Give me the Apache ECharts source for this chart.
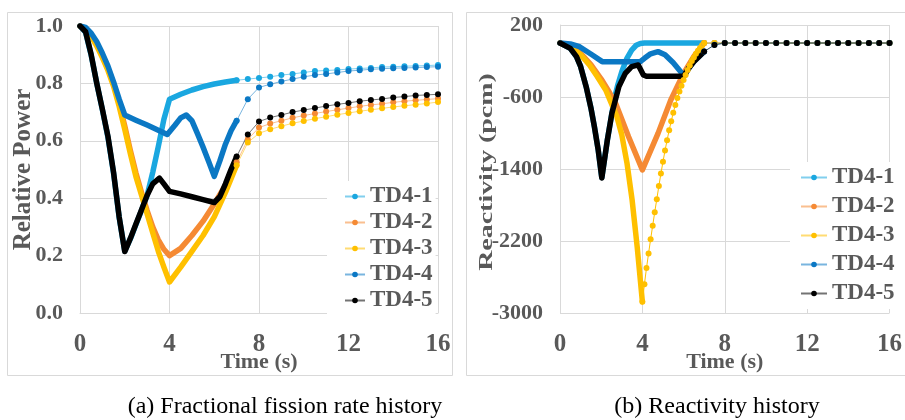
<!DOCTYPE html>
<html>
<head>
<meta charset="utf-8">
<script src="https://cdn.jsdelivr.net/npm/echarts@6/dist/echarts.min.js"></script>
<style>
html,body{margin:0;padding:0;background:#fff;}
#c{width:905px;height:420px;}
</style>
</head>
<body>
<div id="c"></div>
<script>
// ---------- data ----------
const seriesNames = ['TD4-1', 'TD4-2', 'TD4-3', 'TD4-4', 'TD4-5'];
const xTicks = [0, 4, 8, 12, 16];

// (a) relative power, dense part (0-7 s)
const pT1 = [0,0.25,0.5,0.75,1,1.25,1.5,1.75,2,2.25,2.5,2.75,3,3.25,3.5,3.75,4,4.5,5,5.5,6,6.5,7];
const pV1 = [1.0,0.978,0.898,0.80,0.708,0.612,0.487,0.333,0.216,0.258,0.308,0.358,0.41,0.49,0.58,0.675,0.745,0.762,0.777,0.789,0.798,0.805,0.811];
const pT2 = [0,0.25,0.5,0.75,1,1.25,1.5,1.75,2,2.25,2.5,2.75,3,3.25,3.5,3.75,4,4.5,5,5.5,6,6.5,7];
const pV2 = [1.0,0.992,0.968,0.935,0.895,0.85,0.80,0.73,0.652,0.567,0.488,0.42,0.357,0.30,0.255,0.222,0.20,0.225,0.27,0.32,0.38,0.445,0.525];
const pT3 = [0,0.25,0.5,0.75,1,1.25,1.5,1.75,2,2.25,2.5,2.75,3,3.25,3.5,3.75,4,4.5,5,5.5,6,6.5,7];
const pV3 = [1.0,0.99,0.965,0.93,0.89,0.845,0.79,0.72,0.64,0.555,0.475,0.41,0.345,0.28,0.215,0.16,0.108,0.16,0.215,0.27,0.335,0.42,0.515];
const pT4 = [0,0.25,0.5,0.75,1,1.25,1.5,1.75,2,2.5,3,3.5,3.9,4.25,4.5,4.75,5,5.25,5.5,5.75,6,6.25,6.5,6.75,7];
const pV4 = [1.0,0.995,0.975,0.945,0.905,0.86,0.805,0.745,0.69,0.672,0.655,0.637,0.622,0.655,0.68,0.69,0.67,0.625,0.578,0.528,0.476,0.53,0.588,0.635,0.67];
const pT5 = [0,0.25,0.5,0.75,1,1.25,1.5,1.75,2,2.25,2.5,2.75,3,3.25,3.55,3.75,4,4.5,5,5.5,6,6.25,6.5,6.75,7];
const pV5 = [1.0,0.98,0.90,0.80,0.71,0.615,0.49,0.335,0.214,0.26,0.31,0.36,0.41,0.45,0.47,0.45,0.424,0.415,0.405,0.395,0.385,0.405,0.45,0.50,0.545];

// (a) relative power, tail part (7-16 s, 0.5 s steps)
const tailT = [7,7.5,8,8.5,9,9.5,10,10.5,11,11.5,12,12.5,13,13.5,14,14.5,15,15.5,16];
const pTail1 = [0.811,0.815,0.819,0.823,0.829,0.833,0.838,0.843,0.845,0.847,0.850,0.852,0.854,0.857,0.858,0.860,0.861,0.862,0.864];
const pTail2 = [0.525,0.605,0.646,0.660,0.670,0.680,0.688,0.695,0.702,0.708,0.714,0.720,0.725,0.729,0.734,0.738,0.741,0.744,0.747];
const pTail3 = [0.515,0.594,0.626,0.640,0.651,0.661,0.669,0.677,0.684,0.691,0.697,0.703,0.708,0.713,0.718,0.722,0.726,0.730,0.735];
const pTail4 = [0.67,0.745,0.786,0.797,0.807,0.815,0.823,0.829,0.833,0.838,0.843,0.846,0.849,0.851,0.853,0.854,0.855,0.857,0.858];
const pTail5 = [0.545,0.622,0.667,0.681,0.690,0.700,0.707,0.714,0.721,0.727,0.732,0.738,0.742,0.746,0.751,0.754,0.758,0.760,0.762];

// (b) reactivity (pcm), dense part
const rT1 = [0,0.5,0.8,1.0,1.27,1.5,1.67,1.85,2.03,2.3,2.52,2.62,2.8,3.0,3.25,3.48,3.7,3.9,4.1,5,6,7];
const rV1 = [0,-60,-152,-260,-485,-720,-930,-1180,-1495,-1075,-780,-640,-470,-320,-170,-78,-25,-5,0,0,0,0];
const rT2 = [0,0.5,1,1.5,2,2.35,2.7,3.33,4,4.76,5.38,6,6.5,7];
const rV2 = [0,-35,-115,-240,-400,-530,-670,-1041,-1410,-1004,-633,-337,-150,0];
const rT3 = [0,0.48,1,1.43,1.8,2.22,2.75,3,3.25,3.5,3.75,4];
const rV3 = [0,-41,-130,-244,-370,-522,-810,-1020,-1330,-1740,-2270,-2874];
const rT3up = [4,4.1,4.2,4.3,4.4,4.5,4.6,4.7,4.8,4.9,5,5.1,5.2,5.3,5.4,5.5,5.6,5.7,5.8,5.9,6,6.1,6.2,6.3,6.4,6.5,6.6,6.7,6.8,6.9,7];
const rV3up = [-2874,-2680,-2500,-2340,-2180,-2030,-1880,-1735,-1590,-1450,-1320,-1195,-1080,-970,-870,-775,-690,-610,-540,-475,-410,-355,-300,-250,-200,-160,-120,-85,-55,-25,0];
const rT4 = [0,0.5,0.95,1.57,2.05,3.9,4.1,4.4,4.76,5.1,5.5,5.86,6.05,6.25,6.5,6.75,7];
const rV4 = [0,-10,-41,-133,-207,-207,-170,-120,-96,-130,-220,-319,-360,-280,-207,-150,-95];
const rT5 = [0,0.5,0.8,1.0,1.27,1.5,1.67,1.85,2.03,2.3,2.52,2.86,3.17,3.48,3.8,4.05,4.2,6.0,6.25,6.5,6.75,7];
const rV5 = [0,-60,-152,-260,-485,-720,-930,-1180,-1500,-1078,-780,-485,-337,-263,-244,-356,-370,-370,-280,-207,-150,-95];

// (b) reactivity tail
const rTail1 = [0,0,0,0,0,0,0,0,0,0,0,0,0,0,0,0,0,0,0];
const rTail2 = [0,0,0,0,0,0,0,0,0,0,0,0,0,0,0,0,0,0,0];
const rTail3 = [0,0,0,0,0,0,0,0,0,0,0,0,0,0,0,0,0,0,0];
const rTail4 = [-95,-20,0,0,0,0,0,0,0,0,0,0,0,0,0,0,0,0,0];
const rTail5 = [-95,-22,0,0,0,0,0,0,0,0,0,0,0,0,0,0,0,0,0];

// ---------- styling ----------
const colors = ['#1AA7E0', '#F58A34', '#FFC000', '#0B78C4', '#000000'];
const FONT = "'Liberation Serif', 'Times New Roman', serif";
const GRAY = '#595959';
const GRID = '#d9d9d9';

function zip(t, v) { return t.map((x, i) => [x, v[i]]); }

const pDense = [[pT1,pV1],[pT2,pV2],[pT3,pV3],[pT4,pV4],[pT5,pV5]];
const pTails = [pTail1,pTail2,pTail3,pTail4,pTail5];
const rDense = [[rT1,rV1],[rT2,rV2],[rT3,rV3],[rT4,rV4],[rT5,rV5]];
const rTails = [rTail1,rTail2,rTail3,rTail4,rTail5];

const series = [];
// tails first (define legend icons: thin line + dot)
[0,1].forEach(gi => {
  const tails = gi === 0 ? pTails : rTails;
  seriesNames.forEach((nm, i) => {
    series.push({
      name: nm, type: 'line', xAxisIndex: gi, yAxisIndex: gi,
      data: zip(tailT, tails[i]),
      symbol: 'circle', symbolSize: 6, showSymbol: true,
      itemStyle: { color: colors[i] },
      lineStyle: { color: colors[i], width: 1, opacity: 0.55 },
      z: 3, animation: false
    });
  });
});
// dense parts
[0,1].forEach(gi => {
  const dense = gi === 0 ? pDense : rDense;
  seriesNames.forEach((nm, i) => {
    series.push({
      name: nm, type: 'line', xAxisIndex: gi, yAxisIndex: gi,
      data: zip(dense[i][0], dense[i][1]),
      symbol: 'none', showSymbol: false,
      itemStyle: { color: colors[i] },
      lineStyle: { color: colors[i], width: 5.5, cap: 'round', join: 'round' },
      z: 2, animation: false
    });
    if (gi === 1 && i === 2) {
      series.push({
        name: nm, type: 'line', xAxisIndex: 1, yAxisIndex: 1,
        data: zip(rT3up, rV3up),
        symbol: 'circle', symbolSize: 6, showSymbol: true,
        itemStyle: { color: colors[i] },
        lineStyle: { color: colors[i], width: 1 },
        z: 2, animation: false
      });
    }
  });
});

const axisLabelStyle = { fontFamily: FONT, fontWeight: 'bold', color: GRAY };

const option = {
  animation: false,
  backgroundColor: '#fff',
  grid: [
    { left: 80, top: 26, width: 358, height: 287 },
    { left: 560, top: 25, width: 337, height: 288 }
  ],
  xAxis: [0,1].map(gi => ({
    type: 'value', gridIndex: gi, min: 0, max: 16, interval: 4,
    name: 'Time (s)', nameLocation: 'middle', nameGap: 38, nameMoveOverlap: false,
    nameTextStyle: { fontFamily: FONT, fontWeight: 'bold', fontSize: 22, color: GRAY },
    axisLine: { show: true, lineStyle: { color: GRID } },
    axisTick: { show: false },
    splitLine: { show: true, lineStyle: { color: GRID } },
    axisLabel: Object.assign({ fontSize: 25, margin: 19 }, axisLabelStyle)
  })),
  yAxis: [
    {
      type: 'value', gridIndex: 0, min: 0, max: 1, interval: 0.2,
      name: 'Relative Power', nameLocation: 'middle', nameGap: 44, nameMoveOverlap: false,
      nameTextStyle: { fontFamily: FONT, fontWeight: 'bold', fontSize: 25, color: GRAY },
      axisLine: { show: true, lineStyle: { color: GRID } },
      axisTick: { show: false },
      splitLine: { show: true, lineStyle: { color: GRID } },
      axisLabel: Object.assign({ fontSize: 22, margin: 17, formatter: v => v.toFixed(1) }, axisLabelStyle)
    },
    {
      type: 'value', gridIndex: 1, min: -3000, max: 200, interval: 800,
      axisLine: { show: true, lineStyle: { color: GRID } },
      axisTick: { show: false },
      splitLine: { show: true, lineStyle: { color: GRID } },
      axisLabel: Object.assign({ fontSize: 22, margin: 17, formatter: v => String(v) }, axisLabelStyle)
    }
  ],
  legend: [
    {
      data: seriesNames, orient: 'vertical', left: 327, top: 181,
      padding: [4, 3, 4, 17], itemGap: 3, itemWidth: 20, itemHeight: 7,
      backgroundColor: '#fff', selectedMode: false,
      textStyle: { fontFamily: FONT, fontWeight: 'bold', fontSize: 23, color: GRAY }
    },
    {
      data: seriesNames, orient: 'vertical', left: 790, top: 162,
      padding: [4, 1, 4, 10], itemGap: 6, itemWidth: 26, itemHeight: 7,
      backgroundColor: '#fff', selectedMode: false,
      textStyle: { fontFamily: FONT, fontWeight: 'bold', fontSize: 23, color: GRAY }
    }
  ],
  graphic: [
    { type: 'rect', shape: { x: 7.5, y: 12.5, width: 445, height: 363 }, style: { fill: 'none', stroke: GRID, lineWidth: 1 }, z: -1 },
    { type: 'rect', shape: { x: 466.5, y: 12.5, width: 450, height: 363 }, style: { fill: 'none', stroke: GRID, lineWidth: 1 }, z: -1 },
    { type: 'text', x: 487, y: 172, rotation: Math.PI / 2, scaleX: 1.55, scaleY: 1,
      style: { text: 'Reactivity (pcm)', fontFamily: FONT, fontWeight: 'bold', fontSize: 18, fill: GRAY,
               align: 'center', verticalAlign: 'middle', textAlign: 'center', textVerticalAlign: 'middle' } },
    { type: 'text', x: 285, y: 407,
      style: { text: '(a) Fractional fission rate history', fontFamily: FONT, fontSize: 24, fill: '#000',
               align: 'center', verticalAlign: 'middle', textAlign: 'center', textVerticalAlign: 'middle' } },
    { type: 'text', x: 717, y: 407,
      style: { text: '(b) Reactivity history', fontFamily: FONT, fontSize: 24, fill: '#000',
               align: 'center', verticalAlign: 'middle', textAlign: 'center', textVerticalAlign: 'middle' } }
  ],
  series: series
};

const chart = echarts.init(document.getElementById('c'), null, { renderer: 'canvas' });
chart.setOption(option);
</script>
</body>
</html>
